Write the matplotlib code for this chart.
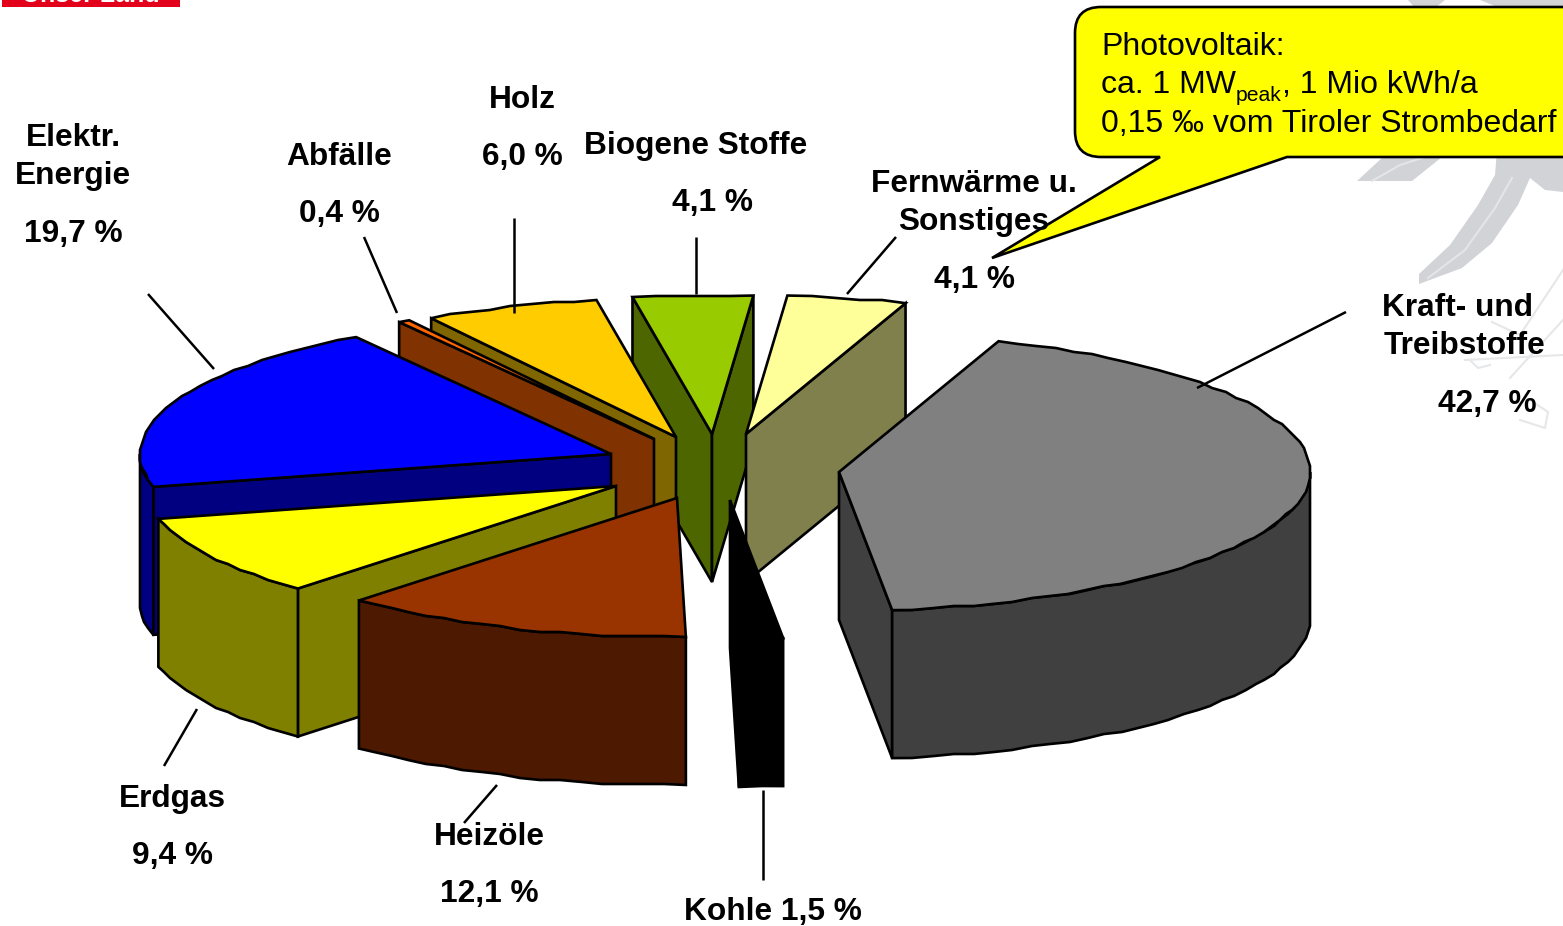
import numpy as np
import matplotlib
matplotlib.use("Agg")
import matplotlib.pyplot as plt
from matplotlib.patches import Polygon, PathPatch, Rectangle
from matplotlib.path import Path

# ---- data -------------------------------------------------------------
names = ["Kraft- und\nTreibstoffe", "Kohle", "Heizöle", "Erdgas", "Elektr.\nEnergie",
         "Abfälle", "Holz", "Biogene Stoffe", "Fernwärme u.\nSonstiges"]
shares = [42.7, 1.5, 12.1, 9.4, 19.7, 0.4, 6.0, 4.1, 4.1]

# ---- style / layout ---------------------------------------------------
top_colors = ["#808080", "#000000", "#993300", "#FFFF00", "#0000FF", "#FF6600", "#FFCC00", "#99CC00", "#FFFF99"]
side_colors = ["#404040", "#000000", "#4D1900", "#808000", "#000080", "#803300", "#806600", "#4D6600", "#80804D"]
apex = [(839, 472), (730, 500), (677, 498), (616, 486), (611, 454), (654, 439), (676, 437), (712, 434), (746, 434)]
draw_order = [7, 8, 6, 5, 4, 3, 0, 1, 2]
START, RX, RY, DEPTH = 70.2, 471, 139, 148
LW = 1.9

plt.rcParams["font.family"] = ["Liberation Sans", "DejaVu Sans"]
fig = plt.figure(figsize=(15.63, 9.26), dpi=100)
ax = fig.add_axes([0, 0, 1, 1])
ax.set_xlim(0, 1563)
ax.set_ylim(926, 0)
ax.axis("off")

# ---- faded background artwork ------------------------------------------
GREY = "#D2D3D7"
feathers = [
    [(1419, 284), (1419, 274), (1450, 245), (1478, 205), (1495, 175), (1497, 150), (1563, 150), (1563, 192),
     (1545, 190), (1530, 178), (1518, 205), (1492, 243), (1462, 268)],
    [(1357, 181), (1383, 157), (1442, 157), (1412, 181)],
    [(1408, 0), (1445, 0), (1435, 8), (1415, 8)],
    [(1480, 0), (1563, 0), (1563, 8), (1500, 8)],
]
for f in feathers:
    ax.add_patch(Polygon(f, closed=True, fc=GREY, ec="none", zorder=0))
for seg in [[(1428, 278), (1465, 250), (1495, 208), (1512, 178)], [(1372, 181), (1400, 165), (1425, 157)]]:
    xs, ys = zip(*seg)
    ax.plot(xs, ys, color="#E4E5E8", lw=1.5, zorder=0)
for seg in [[(1492, 322), (1520, 335), (1563, 270)], [(1465, 360), (1563, 355)], [(1510, 378), (1563, 320)],
            [(1470, 360), (1478, 368), (1490, 365)], [(1520, 420), (1545, 428), (1548, 412), (1530, 400)]]:
    xs, ys = zip(*seg)
    ax.plot(xs, ys, color="#E6E7E9", lw=1.5, zorder=0)

# red logo strip cut off by the top edge
logo = Rectangle((2, -2), 178, 9, fc="#E2001A", ec="none", zorder=1)
ax.add_patch(logo)
logo_text = ax.text(91, 2, "Unser Land", color="white", weight="bold", fontsize=18, ha="center", va="baseline", zorder=2)
logo_text.set_clip_path(logo)


# ---- exploded 3-D pie --------------------------------------------------
def rim(c, a_from, a_to):
    """Rim of the slice, with the coarse scalloped outline of the original."""
    n = max(2, int(abs(a_to - a_from) / 2.5) + 1)
    t = np.radians(np.linspace(a_from, a_to, n))
    pts = np.column_stack([c[0] + RX * np.cos(t), c[1] - RY * np.sin(t)])
    pts[1:-1] = np.round(pts[1:-1] / 2.0) * 2.0
    return pts


def poly(pts, color, z):
    ax.add_patch(Polygon(pts, closed=True, fc=color, ec="black", lw=LW, joinstyle="miter", zorder=z))


edges = START - np.concatenate([[0], np.cumsum(shares)]) * 3.6
down = np.array([0, DEPTH])
for rank, i in enumerate(draw_order):
    z = 10 + rank
    a1, a2 = edges[i], edges[i + 1]
    c = np.array(apex[i], float)
    for a, visible in ((a1, np.cos(np.radians(a1)) < 0), (a2, np.cos(np.radians(a2)) > 0)):
        if visible:
            p = rim(c, a, a)[:1]
            poly([c, p[0], p[0] + down, c + down], side_colors[i], z)
    hi, lo = min(a1, 0), max(a2, -180)
    if hi > lo:
        r = rim(c, hi, lo)
        poly(np.vstack([r, r[::-1] + down]), side_colors[i], z)
    poly(np.vstack([[c], rim(c, a1, a2)]), top_colors[i], z)

# ---- leader lines ------------------------------------------------------
leaders = [((148, 294), (214, 369)), ((364, 237), (397, 313)), ((514, 218), (514, 313)), ((696, 237), (696, 294)),
           ((896, 237), (847, 294)), ((1346, 312), (1197, 388)), ((197, 709), (164, 766)), ((497, 785), (464, 823)),
           ((763, 790), (763, 880))]
for a, b in leaders:
    ax.plot([a[0], b[0]], [a[1], b[1]], color="black", lw=1.8, zorder=30, solid_capstyle="butt")

# ---- callout -----------------------------------------------------------
L, T, R, B, K = 1075, 7, 1570, 157, 26
verts = [(L + K, T), (R, T), (R, B), (1287, B), (992, 258), (1160, B), (L + K, B), (L, B), (L, B - K), (L, T + K), (L, T), (L + K, T), (L + K, T)]
codes = [Path.MOVETO, Path.LINETO, Path.LINETO, Path.LINETO, Path.LINETO, Path.LINETO, Path.LINETO, Path.CURVE3, Path.CURVE3,
         Path.LINETO, Path.CURVE3, Path.CURVE3, Path.CLOSEPOLY]
ax.add_patch(PathPatch(Path(verts, codes), fc="#FFFF00", ec="black", lw=LW, zorder=35, clip_on=True))

CALL = 23
for x, y, s, fs in [(1101, 55, "Photovoltaik:", CALL), (1101, 93, "ca. 1 MW", CALL), (1236, 101, "peak", 15.2),
                    (1282, 93, ", 1 Mio kWh/a", CALL), (1101, 132, "0,15 ‰ vom Tiroler Strombedarf", CALL)]:
    ax.text(x, y, s, fontsize=fs, ha="left", va="baseline", color="black", zorder=40)


# ---- labels ------------------------------------------------------------
def pct(v):
    return f"{v:.1f} %".replace(".", ",")


FS = 22.8
label_layout = {
    0: [(1458, 308), (1464, 346), (1487, 404)],
    1: [(773, 912)],
    2: [(489, 837), (489, 894)],
    3: [(172, 799), (172, 856)],
    4: [(73, 138), (73, 176), (73, 234)],
    5: [(339, 157), (339, 214)],
    6: [(522, 100), (522, 157)],
    7: [(696, 146), (713, 203)],
    8: [(974, 184), (974, 222), (974, 280)],
}
for i, pos in label_layout.items():
    if len(pos) == 1:
        lines = [f"{names[i]} {pct(shares[i])}"]
    else:
        lines = names[i].split("\n") + [pct(shares[i])]
    for (x, y), s in zip(pos, lines):
        ax.text(x, y, s, fontsize=FS, weight="bold", ha="center", va="center", color="black", zorder=45)

fig.savefig("out.png", dpi=100, facecolor="white")
